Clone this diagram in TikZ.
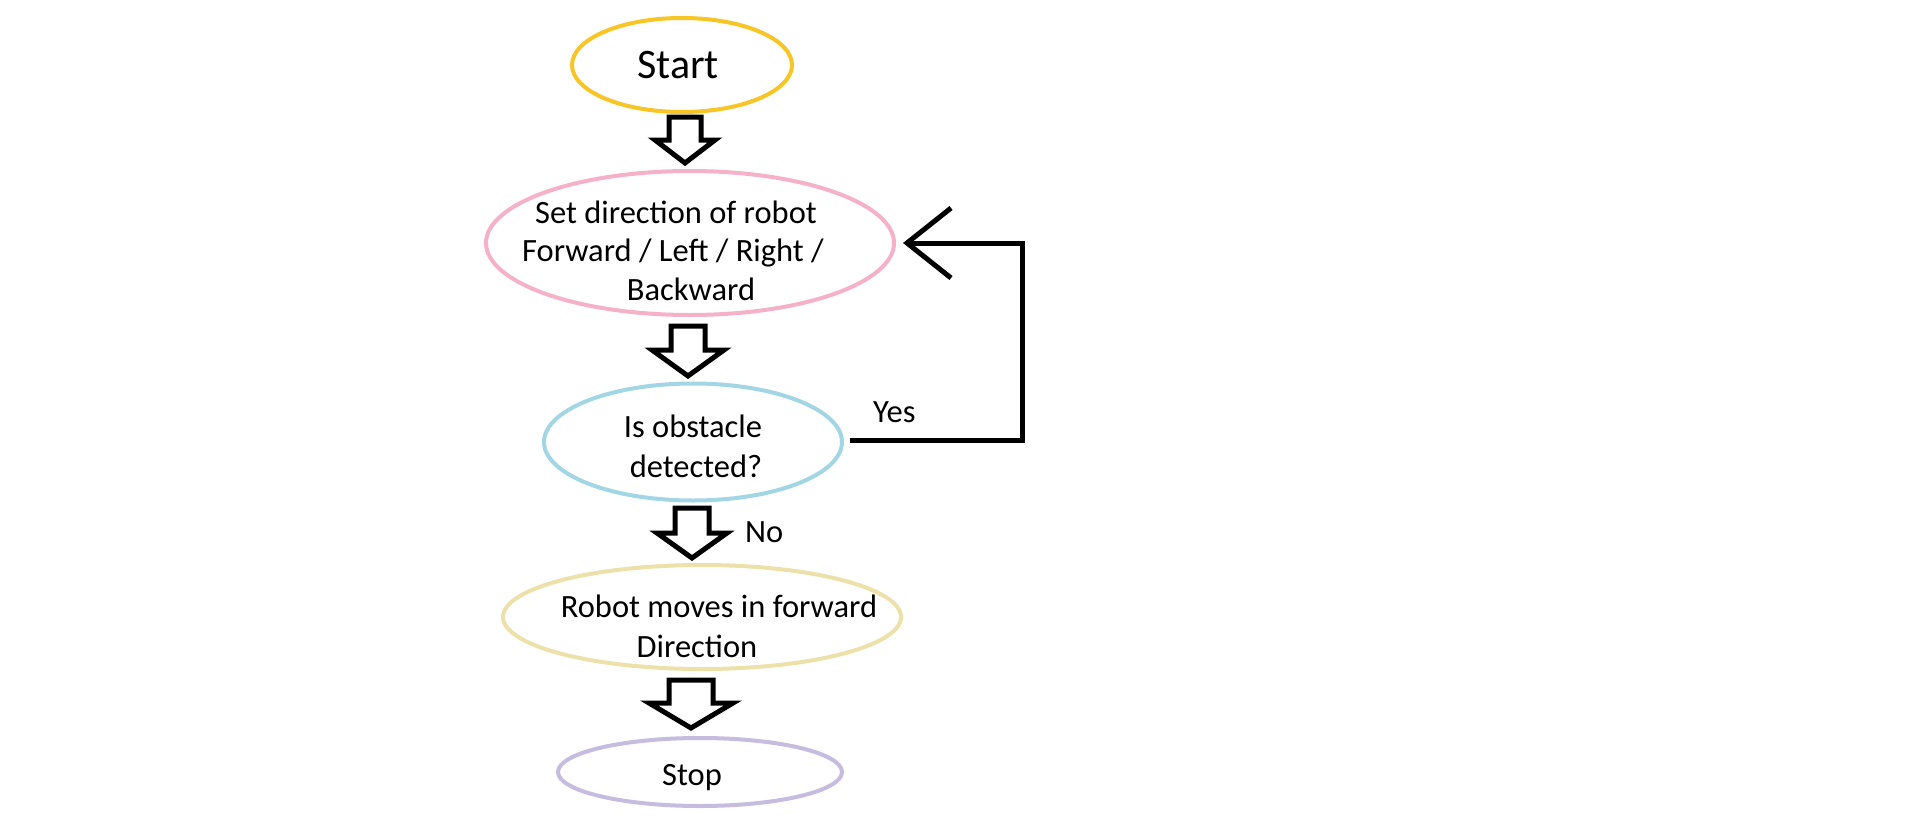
\documentclass[tikz,border=0pt]{standalone}
\usepackage{fontspec}
\setmainfont{Carlito}
\usetikzlibrary{shapes.geometric,arrows.meta}
\definecolor{startc}{HTML}{F7C525}
\definecolor{pinkc}{HTML}{F5B1C8}
\definecolor{bluec}{HTML}{A2D6E5}
\definecolor{tanc}{HTML}{EDE1AA}
\definecolor{purc}{HTML}{C6BCE0}
\tikzset{
  el/.style={ellipse, line width=4pt, inner sep=0pt, fill=none},
  lbl/.style={inner sep=0pt, anchor=base, font=\fontsize{32.5}{39.6}\selectfont},
  blk/.style={draw=black, line width=5pt, line join=miter, fill=white},
  conn/.style={draw=black, line width=5pt, line join=miter}
}
\newcommand\blockarr[6]{%
  \draw[blk] ({#1-#5},#2) -- ({#1+#5},#2) -- ({#1+#5},#3) -- ({#1+#6},#3) -- (#1,#4) -- ({#1-#6},#3) -- ({#1-#5},#3) -- cycle;}
\begin{document}
\begin{tikzpicture}[x=1pt,y=-1pt]
\path[use as bounding box, fill=white] (0,0) rectangle (1914,819);
% ellipses
\node[el, draw=startc, minimum width=220pt, minimum height=94pt] (start) at (682,65) {};
\node[el, draw=pinkc, minimum width=408pt, minimum height=144pt] (set) at (690,243) {};
\node[el, draw=bluec, minimum width=298pt, minimum height=117pt] (obst) at (693,442) {};
\node[el, draw=tanc, minimum width=398pt, minimum height=104pt] (move) at (702,617) {};
\node[el, draw=purc, minimum width=284pt, minimum height=68pt] (stop) at (700,772) {};
% texts
\node[lbl, font=\fontsize{42}{50}\selectfont] (starttxt) at (678,78) {Start};
\node[lbl] (set1) at (676,223) {Set direction of robot};
\node[lbl] (set2) at (673,261) {Forward / Left / Right /};
\node[lbl] (set3) at (691,300) {Backward};
\node[lbl] (obst1) at (693,437) {Is obstacle};
\node[lbl] (obst2) at (696,477) {detected?};
\node[lbl] (move1) at (719,617) {Robot moves in forward};
\node[lbl] (move2) at (697,657) {Direction};
\node[lbl] (stoptxt) at (692,785) {Stop};
% block arrows
\blockarr{685}{117}{140}{163}{16}{30}
\blockarr{688}{326}{350}{376}{17}{36}
\blockarr{692}{508}{533}{558}{17}{35}
\blockarr{691}{680}{703}{728}{22}{42}
% yes loop
\coordinate (c0) at ([xshift=6pt]obst.east);
\coordinate (c1) at (1022,440);
\coordinate (c2) at (1022,243);
\draw[conn, -{Straight Barb[length=44pt,width=70pt]}] (c0 |- c1) -- (c1) -- (c2) -- ([xshift=7pt]set.east);
\node[lbl, anchor=base west] (yes) at (873,422) {Yes};
\node[lbl, anchor=base west] (no) at (745,542) {No};
\end{tikzpicture}
\end{document}
